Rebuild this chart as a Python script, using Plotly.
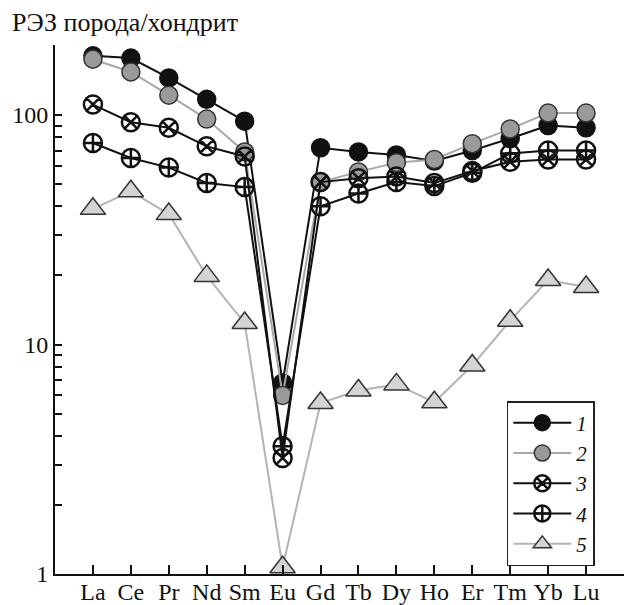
import plotly.graph_objects as go

elements = ["La", "Ce", "Pr", "Nd", "Sm", "Eu", "Gd", "Tb", "Dy", "Ho", "Er", "Tm", "Yb", "Lu"]
s1 = [181, 177, 145, 117, 94, 6.8, 72, 69, 67, 63, 70, 79, 90, 88]
s2 = [175, 154, 122, 96, 69, 6.0, 51, 56.5, 62, 64, 75, 87, 102, 102]
s3 = [111, 93, 88, 73, 66, 3.2, 51, 53, 54, 50.5, 57, 62.5, 64, 64]
s4 = [75.5, 65, 59, 50.6, 48.5, 3.6, 40, 45.5, 51, 49, 56, 68, 70, 70]
s5 = [39, 46.5, 37, 19.9, 12.4, 1.07, 5.56, 6.3, 6.7, 5.6, 8.1, 12.7, 19.1, 17.8]
names = ["1", "2", "3", "4", "5"]
title_text = "РЭЗ порода/хондрит"

xs = list(range(1, len(elements) + 1))
font_family = "Liberation Serif"

styles = [
    dict(line=dict(color="#111111", width=2),
         marker=dict(symbol="circle", size=18, color="#111111", line=dict(color="#111111", width=1.5))),
    dict(line=dict(color="#a8a8a8", width=2),
         marker=dict(symbol="circle", size=18, color="#9a9a9a", line=dict(color="#333333", width=1.5))),
    dict(line=dict(color="#111111", width=2),
         marker=dict(symbol="circle-x-open", size=18, color="#111111", line=dict(color="#111111", width=2.5))),
    dict(line=dict(color="#111111", width=2),
         marker=dict(symbol="circle-cross-open", size=18, color="#111111", line=dict(color="#111111", width=2.5))),
    dict(line=dict(color="#b4b4b4", width=2),
         marker=dict(symbol="triangle-up", size=22, color="#d4d4d4", line=dict(color="#333333", width=1.5))),
]

fig = go.Figure()
for name, vals, st in zip(names, [s1, s2, s3, s4, s5], styles):
    fig.add_trace(go.Scatter(x=xs, y=vals, mode="lines+markers", name=name,
                             line=st["line"], marker=st["marker"], cliponaxis=False))

fig.update_layout(
    width=624, height=605,
    margin=dict(l=55, r=0, t=45, b=31),
    paper_bgcolor="white", plot_bgcolor="white",
    font=dict(family=font_family, size=23, color="#111111"),
    showlegend=True,
    legend=dict(x=0.794, y=0.327, xanchor="left", yanchor="top",
                bgcolor="white", bordercolor="#222222", borderwidth=1.5,
                font=dict(family=font_family, size=21, style="italic", color="#111111"),
                itemwidth=58, tracegroupgap=0),
    annotations=[dict(text=title_text, xref="paper", yref="paper",
                      x=-45 / 569, y=1 + 23 / 529, xanchor="left", yanchor="middle",
                      showarrow=False, font=dict(family=font_family, size=26, color="#111111"))],
)

fig.update_xaxes(range=[0, 15], tickmode="array", tickvals=xs, ticktext=elements,
                 tickfont=dict(family=font_family, size=24),
                 ticklabelstandoff=-5,
                 ticks="inside", ticklen=9, tickwidth=1.5, tickcolor="#111111",
                 showline=True, linecolor="#111111", linewidth=2,
                 showgrid=False, zeroline=False, automargin=False)
fig.update_yaxes(type="log", range=[0, 2.305], tickmode="array", tickvals=[1, 10, 100],
                 ticktext=["1", "10", "100"],
                 tickfont=dict(family=font_family, size=24),
                 ticks="inside", ticklen=7, tickwidth=1.5, tickcolor="#111111",
                 minor=dict(tickmode="array",
                            tickvals=[2, 3, 4, 5, 6, 7, 8, 9, 20, 30, 40, 50, 60, 70, 80, 90, 200],
                            ticks="inside", ticklen=7, tickwidth=1.5, tickcolor="#111111", showgrid=False),
                 showline=True, linecolor="#111111", linewidth=2,
                 showgrid=False, zeroline=False, automargin=False)

fig.write_html("out.html",
               config={"displayModeBar": False},
               post_script="document.body.style.margin='0';document.body.style.padding='0';"
                           "document.body.style.overflow='hidden';")
